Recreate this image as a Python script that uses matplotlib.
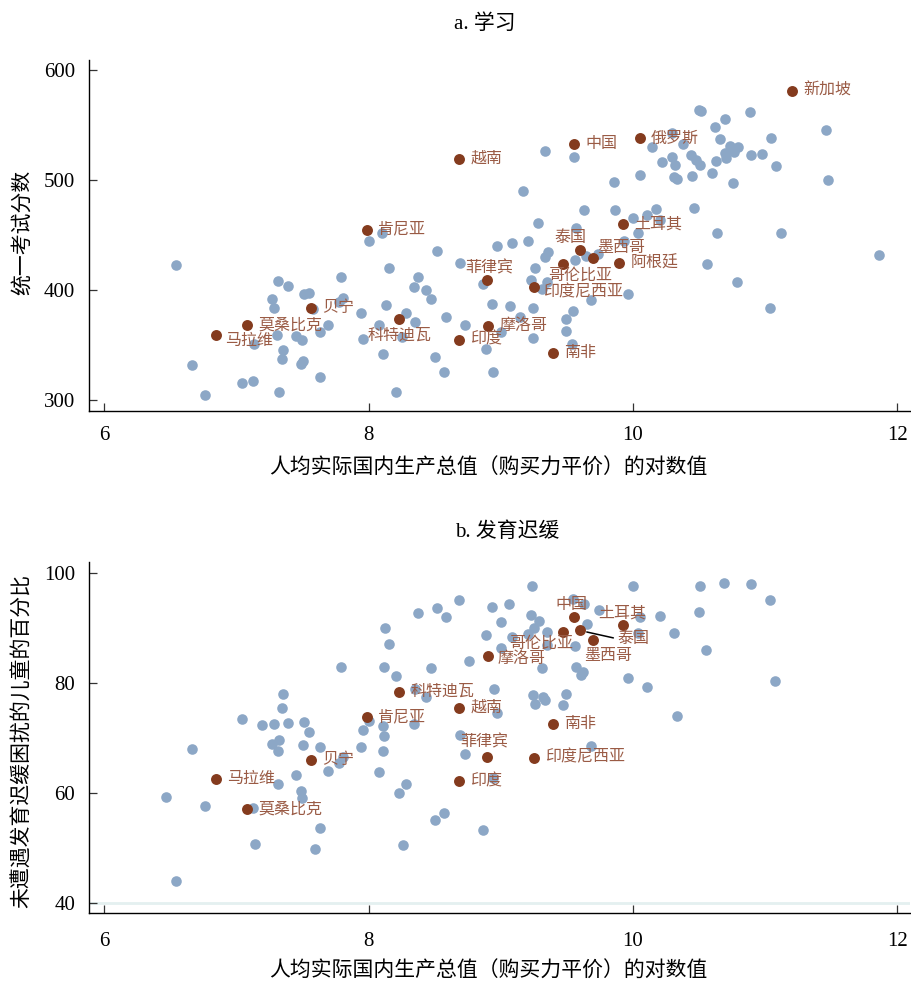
import matplotlib.pyplot as plt

plt.rcParams['font.family'] = ['Liberation Serif', 'Noto Sans CJK SC']

# 人均GDP对数值（两幅图共用）与各国标注
gdp_log = {
    '新加坡': 11.206, '中国': 9.554, '俄罗斯': 10.053, '土耳其': 9.922,
    '泰国': 9.599, '墨西哥': 9.695, '阿根廷': 9.897, '哥伦比亚': 9.473,
    '印度尼西亚': 9.253, '南非': 9.392, '越南': 8.686, '肯尼亚': 7.987,
    '贝宁': 7.566, '莫桑比克': 7.082, '马拉维': 6.847, '科特迪瓦': 8.232,
    '印度': 8.684, '菲律宾': 8.895, '摩洛哥': 8.905,
}

# a. 学习：统一考试分数
score = {
    '新加坡': 580.9, '中国': 532.3, '俄罗斯': 537.7, '土耳其': 459.7,
    '泰国': 436.4, '墨西哥': 429.5, '阿根廷': 424.3, '哥伦比亚': 423.7,
    '印度尼西亚': 402.8, '南非': 342.7, '越南': 519.3, '肯尼亚': 454.9,
    '贝宁': 384.1, '莫桑比克': 368.1, '马拉维': 359.6, '科特迪瓦': 373.5,
    '印度': 355.1, '菲律宾': 409.2, '摩洛哥': 367.2,
}

# b. 发育迟缓：未遭遇发育迟缓的儿童比例
stunting = {
    '中国': 91.9, '土耳其': 90.5, '泰国': 89.5, '墨西哥': 87.7,
    '哥伦比亚': 89.2, '印度尼西亚': 66.4, '南非': 72.6, '越南': 75.4,
    '肯尼亚': 73.8, '贝宁': 65.9, '莫桑比克': 57.0, '马拉维': 62.6,
    '科特迪瓦': 78.4, '印度': 62.1, '菲律宾': 66.6, '摩洛哥': 84.9,
}

# 其他国家
other_a_x = [6.542, 6.666, 6.759, 7.044, 7.125, 7.135, 7.271, 7.281, 7.314, 7.309,
             7.324, 7.344, 7.354, 7.392, 7.450, 7.493, 7.491, 7.501, 7.508, 7.546,
             7.579, 7.634, 7.632, 7.695, 7.788, 7.808, 7.773, 7.939, 7.957, 8.000,
             8.103, 8.078, 8.108, 8.128, 8.154, 8.207, 8.252, 8.285, 8.351, 8.343,
             8.371, 8.431, 8.472, 8.515, 8.504, 8.570, 8.583, 8.691, 8.732, 8.863,
             8.888, 8.930, 8.938, 8.968, 8.999, 9.067, 9.085, 9.142, 9.170, 9.203,
             9.228, 9.246, 9.243, 9.258, 9.284, 9.311, 9.334, 9.347, 9.334, 9.354,
             9.490, 9.493, 9.544, 9.541, 9.554, 9.559, 9.566, 9.632, 9.644, 9.680,
             9.738, 9.854, 9.864, 9.932, 9.960, 10.000, 10.040, 10.050, 10.108, 10.171,
             10.204, 10.141, 10.217, 10.295, 10.295, 10.315, 10.310, 10.333, 10.376, 10.441,
             10.444, 10.462, 10.474, 10.499, 10.512, 10.507, 10.557, 10.595, 10.623, 10.631,
             10.638, 10.658, 10.699, 10.696, 10.706, 10.731, 10.759, 10.767, 10.792, 10.789,
             10.885, 10.895, 10.979, 11.039, 11.044, 11.082, 11.120, 11.463, 11.478, 11.859]
other_a_y = [422.8, 331.8, 304.9, 316.0, 317.9, 351.1, 392.3, 383.8, 408.3, 359.0,
             307.3, 337.8, 345.7, 403.4, 358.4, 354.8, 333.0, 335.4, 396.2, 397.1,
             382.6, 362.3, 321.5, 368.4, 412.2, 393.2, 388.9, 379.0, 355.7, 444.6,
             451.5, 368.4, 342.4, 386.8, 420.1, 307.3, 357.8, 379.6, 370.8, 403.1,
             412.2, 400.1, 391.7, 435.5, 339.0, 325.4, 375.9, 424.9, 368.1, 405.3,
             346.6, 387.1, 326.0, 440.3, 362.3, 385.6, 443.1, 375.3, 489.9, 444.6,
             409.5, 384.1, 356.3, 419.8, 460.9, 401.0, 429.8, 407.7, 526.5, 434.6,
             374.1, 363.2, 381.4, 350.8, 521.1, 427.0, 456.7, 472.4, 431.3, 391.0,
             432.8, 497.8, 472.7, 444.6, 396.2, 465.7, 452.1, 504.4, 468.2, 473.9,
             463.6, 530.1, 515.9, 542.2, 520.5, 513.8, 502.3, 500.5, 532.3, 522.3,
             503.5, 474.5, 518.1, 563.4, 562.8, 513.5, 423.7, 506.0, 547.7, 516.8,
             451.8, 536.8, 555.5, 524.1, 519.6, 530.8, 496.9, 525.6, 529.5, 407.1,
             561.9, 522.3, 523.5, 383.5, 537.7, 512.6, 451.5, 545.3, 499.6, 431.6]

other_b_x = [6.464, 6.542, 6.666, 6.759, 7.044, 7.127, 7.137, 7.195, 7.281, 7.269,
             7.314, 7.324, 7.311, 7.344, 7.354, 7.392, 7.450, 7.488, 7.496, 7.501,
             7.511, 7.546, 7.594, 7.634, 7.632, 7.695, 7.773, 7.808, 7.788, 7.939,
             7.957, 8.005, 8.078, 8.108, 8.116, 8.111, 8.116, 8.126, 8.154, 8.207,
             8.227, 8.262, 8.285, 8.340, 8.351, 8.371, 8.431, 8.472, 8.504, 8.515,
             8.570, 8.583, 8.686, 8.691, 8.732, 8.760, 8.863, 8.888, 8.933, 8.946,
             8.968, 8.938, 9.001, 9.001, 9.064, 9.084, 9.233, 9.228, 9.286, 9.251,
             9.208, 9.314, 9.352, 9.347, 9.246, 9.259, 9.322, 9.334, 9.468, 9.493,
             9.544, 9.561, 9.566, 9.607, 9.624, 9.629, 9.649, 9.680, 9.743, 9.960,
             10.000, 10.053, 10.040, 10.108, 10.202, 10.310, 10.333, 10.497, 10.509, 10.555,
             10.691, 10.893, 11.037, 11.077]
other_b_y = [59.3, 44.0, 67.9, 57.7, 73.5, 57.3, 50.7, 72.4, 72.5, 68.9,
             67.6, 69.6, 61.6, 75.4, 78.0, 72.7, 63.3, 60.3, 59.1, 68.7,
             72.9, 71.0, 49.8, 68.4, 53.6, 64.0, 65.5, 66.6, 82.9, 68.3,
             71.5, 73.1, 63.8, 67.6, 70.3, 72.1, 82.9, 90.0, 87.1, 81.2,
             60.0, 50.5, 61.7, 72.5, 78.9, 92.6, 77.5, 82.7, 55.0, 93.6,
             56.4, 91.9, 95.1, 70.6, 67.0, 83.9, 53.3, 88.7, 93.8, 78.8,
             74.5, 62.7, 91.0, 86.4, 94.4, 88.3, 97.6, 92.3, 91.2, 90.0,
             88.9, 82.7, 89.2, 86.9, 77.8, 76.1, 77.4, 76.9, 76.0, 77.9,
             95.2, 86.6, 82.9, 81.4, 82.0, 94.4, 90.6, 68.6, 93.2, 80.9,
             97.6, 92.0, 89.0, 79.3, 92.1, 89.0, 73.9, 92.9, 97.6, 85.9,
             98.1, 98.0, 95.1, 80.3]

x_ticks = [6, 8, 10, 12]
xlabel = '人均实际国内生产总值（购买力平价）的对数值'

# 标注位置：(x偏移, y偏移, 水平对齐)，单位为磅
right = (8, 0, 'left')
place_a = {
    '马拉维': (6.5, -4.5, 'left'), '科特迪瓦': (0, -11.5, 'center'),
    '菲律宾': (1.5, 8.5, 'center'), '泰国': (-7, 8.5, 'center'),
    '墨西哥': (3.5, 7, 'left'), '哥伦比亚': (12, -8.5, 'center'),
    '印度尼西亚': (6, -4, 'left'),
}
place_b = {
    '中国': (-2, 9, 'center'), '土耳其': (0, 8.5, 'center'),
    '哥伦比亚': (-16, -8, 'center'), '墨西哥': (11, -11, 'center'),
    '摩洛哥': (7, -2, 'left'), '菲律宾': (-2, 10, 'center'),
}

blue = '#8ca7c6'
brown = '#843b1e'
text_brown = '#9a5b45'

fig = plt.figure(figsize=(9.11, 9.86), dpi=100)
ax_a = fig.add_axes([89 / 911, 1 - 411 / 986, 821 / 911, 351 / 986])
ax_b = fig.add_axes([89 / 911, 1 - 913 / 986, 821 / 911, 351 / 986])


def style_axes(ax, pad_x):
    for side in ['top', 'right']:
        ax.spines[side].set_visible(False)
    ax.spines['left'].set_linewidth(1)
    ax.spines['bottom'].set_linewidth(1)
    ax.tick_params(direction='in', length=6, width=0.9, labelsize=15,
                   colors='#333333', labelcolor='black')
    ax.tick_params(axis='y', pad=10)
    ax.tick_params(axis='x', pad=pad_x)
    ax.set_xticks(x_ticks)
    ax.set_xlim(5.884, 12.096)


def draw_highlights(ax, values, places):
    names = list(values.keys())
    xs = [gdp_log[n] for n in names]
    ys = [values[n] for n in names]
    ax.scatter(xs, ys, s=62, color=brown, zorder=3, linewidths=0)
    for n, x, y in zip(names, xs, ys):
        dx, dy, ha = places.get(n, right)
        ax.annotate(n, (x, y), xytext=(dx, dy), textcoords='offset points',
                    ha=ha, va='center', fontsize=11.5, color=text_brown, zorder=4)


# a. 学习
ax_a.scatter(other_a_x, other_a_y, s=58, color=blue, zorder=2, linewidths=0)
draw_highlights(ax_a, score, place_a)
style_axes(ax_a, 11)
ax_a.set_ylim(290.3, 608.8)
ax_a.set_yticks([300, 400, 500, 600])
ax_a.set_xlabel(xlabel, fontsize=15)
ax_a.xaxis.set_label_coords(0.486, -0.135)
ax_a.set_ylabel('统一考试分数', fontsize=15)
ax_a.yaxis.set_label_coords(-0.068, 0.51)

# b. 发育迟缓
ax_b.axhline(40, color='#e4f0f0', lw=2, zorder=1)
ax_b.scatter(other_b_x, other_b_y, s=58, color=blue, zorder=2, linewidths=0)
draw_highlights(ax_b, {k: v for k, v in stunting.items() if k != '泰国'}, place_b)
ax_b.scatter([gdp_log['泰国']], [stunting['泰国']], s=62, color=brown, zorder=3, linewidths=0)
ax_b.annotate('泰国', (gdp_log['泰国'], stunting['泰国']), xytext=(27, -6),
              textcoords='offset points', ha='left', va='center', fontsize=11.5,
              color=text_brown, zorder=4,
              arrowprops=dict(arrowstyle='-', color='black', lw=1.1,
                              shrinkA=1, shrinkB=5, relpos=(0, 0.5)))
style_axes(ax_b, 14)
ax_b.set_ylim(38.18, 101.94)
ax_b.set_yticks([40, 60, 80, 100])
ax_b.set_xlabel(xlabel, fontsize=15)
ax_b.xaxis.set_label_coords(0.486, -0.14)
ax_b.set_ylabel('未遭遇发育迟缓困扰的儿童的百分比', fontsize=15)
ax_b.yaxis.set_label_coords(-0.068, 0.49)

fig.text(454 / 911, 1 - 24 / 986, 'a. 学习', fontsize=15, ha='left', va='center')
fig.text(455 / 911, 1 - 532 / 986, 'b. 发育迟缓', fontsize=15, ha='left', va='center')

fig.savefig('out.png', dpi=100)
